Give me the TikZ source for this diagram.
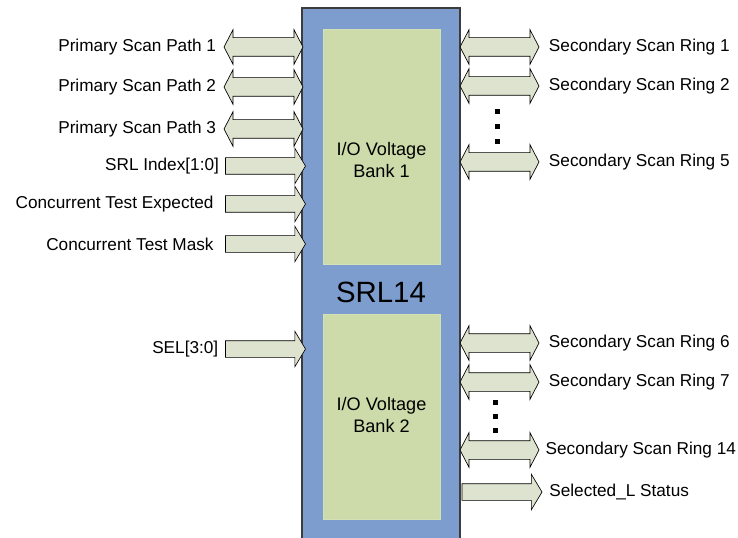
\documentclass[tikz,border=0pt]{standalone}
\usepackage{fontspec}
\setmainfont{Liberation Sans}
\usetikzlibrary{shapes.arrows,positioning}

\definecolor{srlblue}{RGB}{124,157,206}
\definecolor{srledge}{RGB}{60,60,60}
\definecolor{bankgreen}{RGB}{204,219,169}
\definecolor{arrowfill}{RGB}{221,227,206}

\tikzset{
  bidir/.style={double arrow, draw=black, fill=arrowfill, line width=0.5pt,
    inner sep=0pt, inner ysep=6.75pt, minimum height=59.25pt,
    double arrow head extend=6pt, double arrow tip angle=125,
    double arrow head indent=0pt},
  unidir/.style={single arrow, draw=black, fill=arrowfill, line width=0.5pt,
    inner sep=0pt, inner ysep=6pt, minimum height=60pt,
    single arrow head extend=7pt, single arrow tip angle=118,
    single arrow head indent=0pt},
  sig/.style={font=\fontsize{12.9}{15}\selectfont, inner sep=0pt},
  bank/.style={fill=bankgreen, draw=bankgreen!85!white, inner sep=0pt,
    minimum width=87.75pt},
  banktext/.style={font=\fontsize{13.6}{16}\selectfont, align=center, inner sep=0pt}
}

\begin{document}
\begin{tikzpicture}[x=0.75pt,y=-0.75pt]
  \clip (0,0) rectangle (738,538);

  %% SRL14 block
  \node[draw=srledge, fill=srlblue, line width=0.8pt, minimum width=118.5pt,
    minimum height=402.75pt, inner sep=0pt] (srl) at (381,276.5) {};
  \node[bank, minimum height=176.25pt] (bank1) at (381.5,146.5) {};
  \node[bank, minimum height=153.75pt] (bank2) at (381.5,416.5) {};
  \node[banktext] (bank1txt) at (381.5,160) {I/O Voltage\\Bank 1};
  \node[banktext] (bank2txt) at (381.5,415) {I/O Voltage\\Bank 2};
  \node[font=\fontsize{22}{26}\selectfont, inner sep=0pt] (srlname) at (381,292) {SRL14};

  %% primary scan paths
  \foreach \y/\n/\t in {47/pp1/Primary Scan Path 1, 87/pp2/Primary Scan Path 2,
                        129/pp3/Primary Scan Path 3} {
    \node[bidir] (\n) at (263.5,\y) {};
    \node[sig, left=5.5pt of \n] (\n-lbl) {\t};
  }

  %% inputs
  \foreach \y/\n/\t/\g in {166/idx/SRL Index[1:0]/4.5pt,
                           204/cte/Concurrent Test Expected/8.5pt,
                           244/ctm/Concurrent Test Mask/8.5pt,
                           349/sel/SEL[3:0]/5pt} {
    \node[unidir] (\n) at (263,\y) {};
    \node[sig, left=\g of \n] (\n-lbl) {\t};
  }

  %% secondary scan rings
  \foreach \y/\n/\t/\g in {47/sr1/1/7pt, 86/sr2/2/7pt, 162/sr5/5/7pt,
                           343/sr6/6/7pt, 382/sr7/7/7pt, 450/sr14/14/4.5pt} {
    \node[bidir] (\n) at (499.5,\y) {};
    \node[sig, right=\g of \n] (\n-lbl) {Secondary Scan Ring \t};
  }

  %% status output
  \node[unidir] (selst) at (499.5,492) {};
  \node[sig, right=5pt of selst] (selst-lbl) {Selected\_L Status};

  %% dots
  \foreach \y in {112,127,142} \fill (494.5,\y-2.5) rectangle +(5,5);
  \foreach \y in {402,416,430} \fill (492.5,\y-2.5) rectangle +(5,5);
\end{tikzpicture}
\end{document}
